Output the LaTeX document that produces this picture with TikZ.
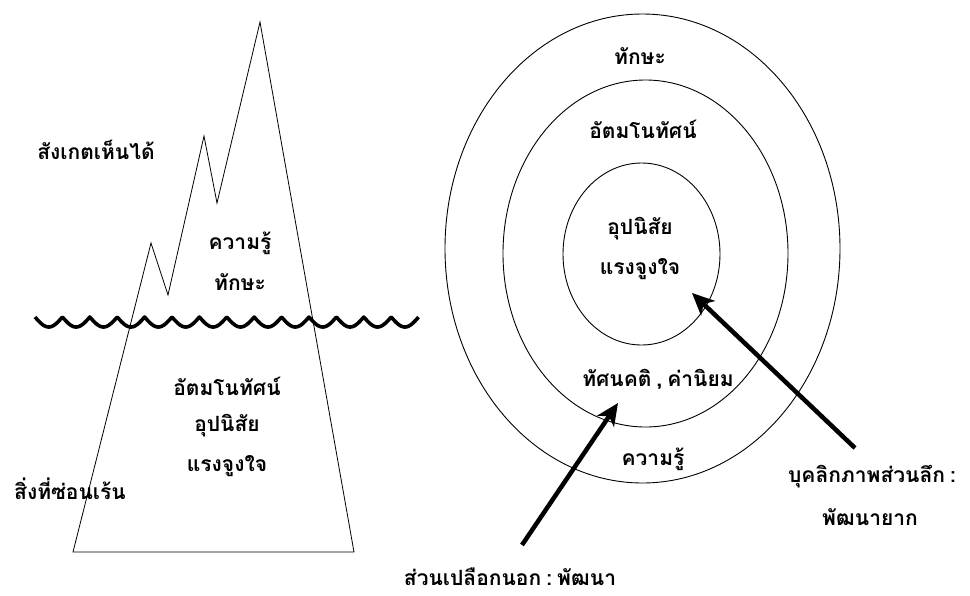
\documentclass[tikz,border=0pt]{standalone}
\usepackage{fontspec}
\newfontfamily\thaifont[Script=Thai]{Loma}
\usetikzlibrary{arrows.meta}

\tikzset{
  thlabel/.style={font=\thaifont\bfseries\fontsize{21}{24}\selectfont, inner sep=0pt},
  ring/.style={draw, line width=0.9pt},
  bigarrow/.style={line width=4.5pt, -{Stealth[length=22pt,width=20pt,inset=6pt]}}
}
\newcommand{\gap}{\hspace{5pt}}

\begin{document}
\begin{tikzpicture}[x=1pt,y=-1pt]
\useasboundingbox (0,0) rectangle (970,595);
% iceberg
\draw[line width=0.8pt] (73,552) -- (151,243) -- (168,295) -- (204,136) -- (217,203)
  -- (260,22) -- (354,552) -- cycle;
% water line
\draw[line width=3.6pt, line join=round] plot[domain=0:14, samples=400]
  ({35+27.4*\x},{317+10*abs(sin(180*\x))});
\node[thlabel] (seen)   at (96,150)  {สังเกตเห็นได้};
\node[thlabel] (knowA)  at (240,243) {ความรู้};
\node[thlabel] (skillA) at (240,282) {ทักษะ};
\node[thlabel] (selfA)  at (227,386) {อัตมโนทัศน์};
\node[thlabel] (habitA) at (227,426) {อุปนิสัย};
\node[thlabel] (motA)   at (227,466) {แรงจูงใจ};
\node[thlabel] (hidden) at (70,489)  {สิ่งที่ซ่อนเร้น};
% rings
\draw[ring] (642.5,248.5) ellipse [x radius=197.5, y radius=234.5];
\draw[ring] (645.5,253.5) ellipse [x radius=142.5, y radius=173.5];
\draw[ring] (641.5,254)   ellipse [x radius=78.5, y radius=91];
\node[thlabel] (skillB) at (640,56)  {ทักษะ};
\node[thlabel] (selfB)  at (643,129) {อัตมโนทัศน์};
\node[thlabel] (habitB) at (640,229) {อุปนิสัย};
\node[thlabel] (motB)   at (640,269) {แรงจูงใจ};
\node[thlabel] (attB)   at (658,379) {ทัศนคติ\gap,\gap ค่านิยม};
\node[thlabel] (knowB)  at (653,459) {ความรู้};
\node[thlabel] (deep)   at (872,477) {บุคลิกภาพส่วนลึก\gap:};
\node[thlabel] (hard)   at (870,517) {พัฒนายาก};
\node[thlabel] (outer)  at (510,577) {ส่วนเปลือกนอก\gap:\gap พัฒนา};
% arrows
\coordinate (outerTail) at (522,545);
\coordinate (outerTip)  at (618,403);
\coordinate (deepTail)  at (855,448);
\coordinate (deepTip)   at (692,293);
\draw[bigarrow] (outerTail) -- (outerTip);
\draw[bigarrow] (deepTail) -- (deepTip);
\end{tikzpicture}
\end{document}
